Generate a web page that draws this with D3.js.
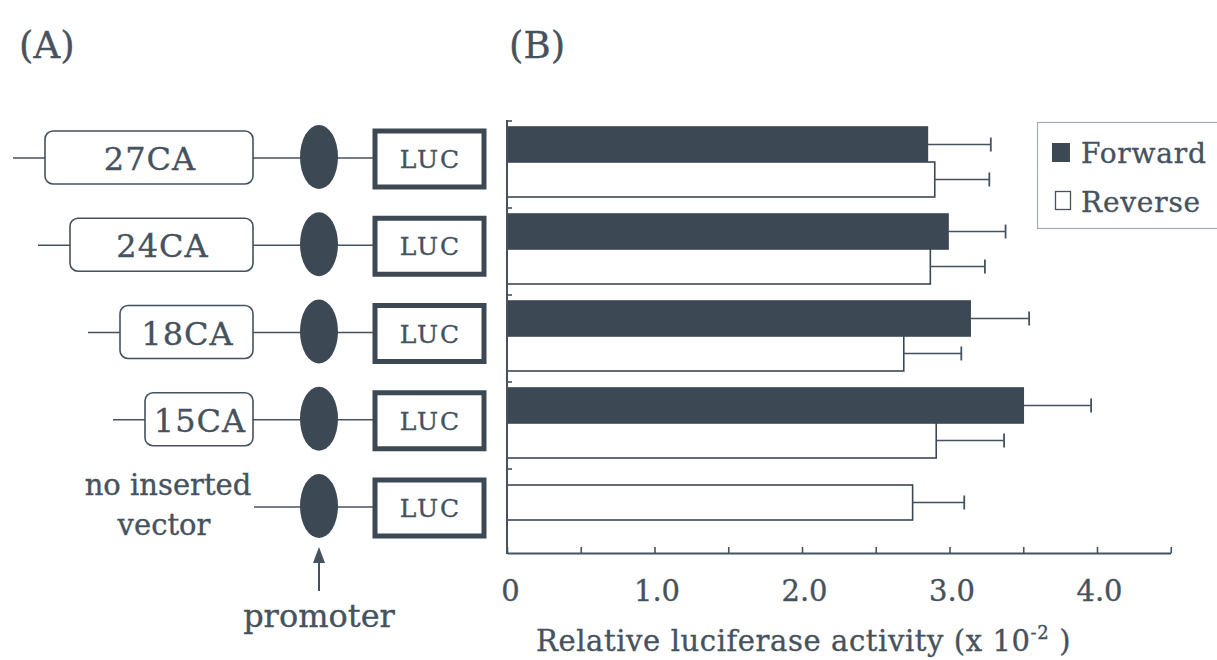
<!DOCTYPE html>
<html><head><meta charset="utf-8">
<script src="https://cdn.jsdelivr.net/npm/d3@7"></script>
<style>
html,body{margin:0;padding:0;background:#fff;}
svg{display:block;}
text{font-family:"DejaVu Serif",serif;fill:#46525e;stroke:#46525e;stroke-width:0.35px;}
</style></head>
<body>
<svg id="chart" width="1217" height="660"></svg>
<script>
// ---- data ----
const categories = ["27CA", "24CA", "18CA", "15CA", "no inserted vector"];
const caRepeats = [27, 24, 18, 15, null];
const forward = [2.85, 2.99, 3.14, 3.50, null];
const forwardErr = [0.43, 0.39, 0.40, 0.46, null];
const reverse = [2.90, 2.87, 2.69, 2.91, 2.75];
const reverseErr = [0.37, 0.37, 0.39, 0.46, 0.35];
const seriesNames = ["Forward", "Reverse"];
const xTickValues = [0, 1, 2, 3, 4];
const xTickLabels = ["0", "1.0", "2.0", "3.0", "4.0"];
const xMinorTicks = [0, 0.5, 1, 1.5, 2, 2.5, 3, 3.5, 4, 4.5];

// ---- style ----
const DARK = "#3c4854", INK = "#46525e";

const svg = d3.select("#chart");

// panel labels
svg.append("text").attr("x", 19).attr("y", 58).style("font-size", "37px").text("(A)");
svg.append("text").attr("x", 509).attr("y", 58).style("font-size", "37px").text("(B)");

// ---- scales ----
const x = d3.scaleLinear().domain([0, 4.5]).range([507, 1170.75]);
const y = d3.scaleBand().domain(categories).range([120, 555]);
const barH = 35;

// ---- panel B ----
const gB = svg.append("g");

categories.forEach((c, i) => {
  const b = y(c);
  const hasF = forward[i] != null;
  const items = [];
  if (hasF) items.push({v: forward[i], e: forwardErr[i], y0: b + 7, fill: DARK});
  items.push({v: reverse[i], e: reverseErr[i], y0: hasF ? b + 42 : b + 17, fill: "#fff"});
  items.forEach(it => {
    gB.append("rect")
      .attr("x", x(0)).attr("y", it.y0)
      .attr("width", x(it.v) - x(0)).attr("height", barH)
      .attr("fill", it.fill).attr("stroke", DARK).attr("stroke-width", 1.6);
    const cy = it.y0 + barH / 2;
    gB.append("line").attr("x1", x(it.v)).attr("x2", x(it.v + it.e))
      .attr("y1", cy).attr("y2", cy).attr("stroke", INK).attr("stroke-width", 1.6);
    gB.append("line").attr("x1", x(it.v + it.e)).attr("x2", x(it.v + it.e))
      .attr("y1", cy - 7).attr("y2", cy + 7).attr("stroke", INK).attr("stroke-width", 1.8);
  });
});

// y axis line + category ticks
gB.append("line").attr("x1", x(0)).attr("x2", x(0)).attr("y1", 120).attr("y2", 554)
  .attr("stroke", INK).attr("stroke-width", 2);
categories.forEach(c => {
  gB.append("line").attr("x1", x(0)).attr("x2", x(0) + 5)
    .attr("y1", y(c) + 1).attr("y2", y(c) + 1).attr("stroke", INK).attr("stroke-width", 1.6);
});

// x axis
const axisY = 553;
const xAxis = gB.append("g").attr("transform", `translate(0,${axisY})`)
  .call(d3.axisBottom(x).tickValues(xMinorTicks).tickSize(-6).tickSizeOuter(0).tickFormat(""));
xAxis.select(".domain").attr("stroke", INK).attr("stroke-width", 2);
xAxis.selectAll(".tick line").attr("stroke", INK).attr("stroke-width", 1.6);

const xLab = gB.append("g").attr("transform", `translate(0,${axisY})`)
  .call(d3.axisBottom(x).tickValues(xTickValues).tickSize(0).tickPadding(27)
    .tickFormat((d, i) => xTickLabels[i]));
xLab.select(".domain").remove();
xLab.selectAll("text").style("font-size", "29px").style("font-family", "DejaVu Serif")
  .attr("fill", INK).attr("dx", (d, i) => i === 0 ? 3 : 2);

// x axis title
const title = gB.append("text").attr("x", 536).attr("y", 651)
  .style("font-size", "29px").style("letter-spacing", "0.6px");
title.append("tspan").text("Relative luciferase activity (x 10");
title.append("tspan").attr("dy", -12).style("font-size", "18px").text("-2");
title.append("tspan").attr("dy", 12).text(" )");

// legend
const lg = svg.append("g");
lg.append("rect").attr("x", 1037.5).attr("y", 122.5).attr("width", 200).attr("height", 106)
  .attr("fill", "#fff").attr("stroke", "#a5abb1").attr("stroke-width", 1.2);
lg.append("rect").attr("x", 1052).attr("y", 143).attr("width", 18).attr("height", 19).attr("fill", DARK);
lg.append("rect").attr("x", 1055.5).attr("y", 191.5).attr("width", 15).attr("height", 18)
  .attr("fill", "#fff").attr("stroke", INK).attr("stroke-width", 1.3);
lg.append("text").attr("x", 1081).attr("y", 163).style("font-size", "28px")
  .style("letter-spacing", "0.8px").text(seriesNames[0]);
lg.append("text").attr("x", 1081).attr("y", 212).style("font-size", "28px")
  .style("letter-spacing", "0.8px").text(seriesNames[1]);

// ---- panel A (construct diagrams) ----
const gA = svg.append("g");
const rowY = d3.scalePoint().domain(categories).range([158, 507]);
const boxW = d3.scaleLinear().domain([15, 27]).range([108, 208]);
const boxRight = 253, promX = 319, lucX0 = 375, lucX1 = 484;

categories.forEach((c, i) => {
  const cy = rowY(c);
  const n = caRepeats[i];
  const lineStart = n != null ? boxRight - boxW(n) - 32 : 254;
  gA.append("line").attr("x1", lineStart).attr("x2", lucX0).attr("y1", cy).attr("y2", cy)
    .attr("stroke", INK).attr("stroke-width", 1.6);
  if (n != null) {
    const w = boxW(n);
    gA.append("rect").attr("x", boxRight - w).attr("y", cy - 27).attr("width", w).attr("height", 53)
      .attr("rx", 8).attr("fill", "#fff").attr("stroke", INK).attr("stroke-width", 1.6);
    gA.append("text").attr("x", boxRight - w / 2 + 1).attr("y", cy + 12).attr("text-anchor", "middle")
      .style("font-size", "32px").style("letter-spacing", "1px").text(c);
  } else {
    const parts = c.replace("no inserted ", "no inserted|").split("|");
    gA.append("text").attr("x", 168).attr("y", cy - 12).attr("text-anchor", "middle")
      .style("font-size", "29px").text(parts[0]);
    gA.append("text").attr("x", 164).attr("y", cy + 28).attr("text-anchor", "middle")
      .style("font-size", "29px").text(parts[1]);
  }
  gA.append("ellipse").attr("cx", promX).attr("cy", cy - 1).attr("rx", 19).attr("ry", 32).attr("fill", DARK);
  gA.append("rect").attr("x", lucX0).attr("y", cy - 27).attr("width", lucX1 - lucX0).attr("height", 56)
    .attr("fill", "#fff").attr("stroke", DARK).attr("stroke-width", 5);
  gA.append("text").attr("x", (lucX0 + lucX1) / 2 + 1).attr("y", cy + 10).attr("text-anchor", "middle")
    .style("font-size", "25px").style("letter-spacing", "2px").text("LUC");
});

// promoter arrow
const lastY = rowY(categories[categories.length - 1]);
gA.append("line").attr("x1", promX).attr("x2", promX).attr("y1", lastY + 52).attr("y2", lastY + 84)
  .attr("stroke", INK).attr("stroke-width", 2);
gA.append("path").attr("d", `M${promX},${lastY + 40} l-6,16 l12,0 z`).attr("fill", INK);
gA.append("text").attr("x", promX).attr("y", 627).attr("text-anchor", "middle")
  .style("font-size", "32px").text("promoter");
</script>
</body></html>
